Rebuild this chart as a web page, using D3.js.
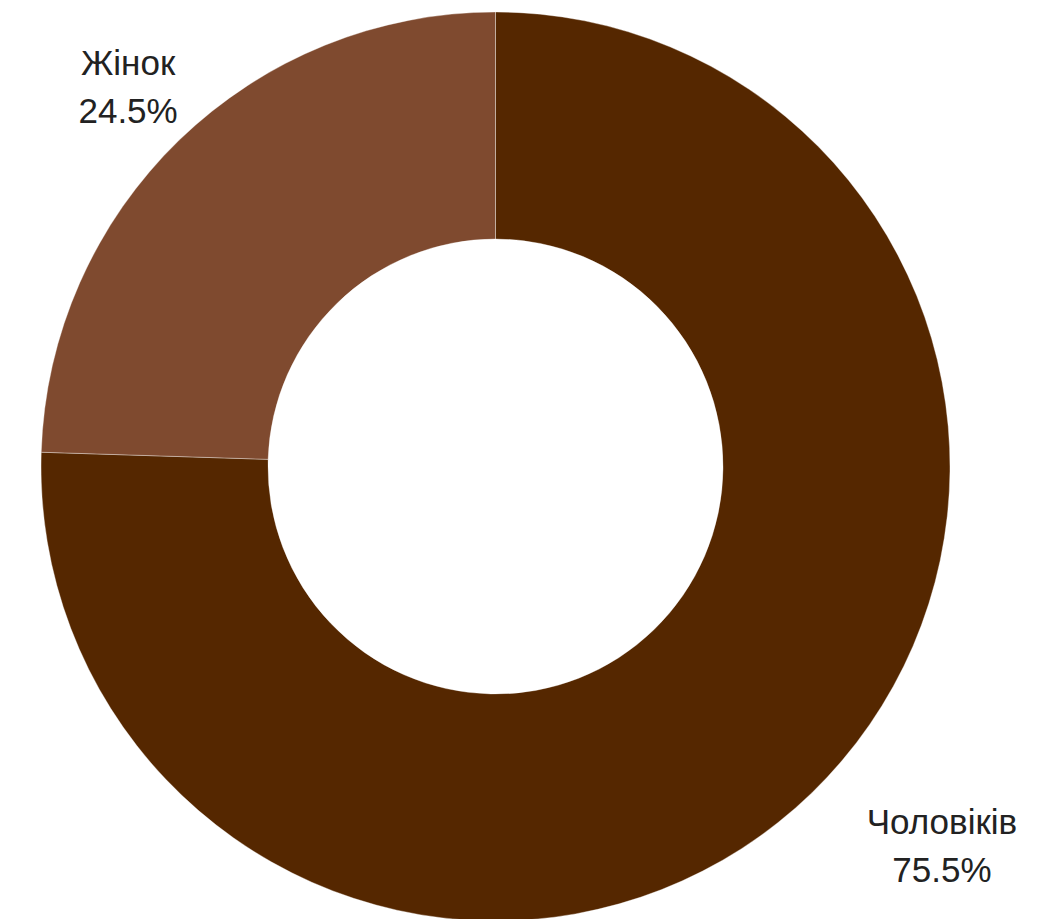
<!DOCTYPE html>
<html>
<head>
<meta charset="utf-8">
<script src="https://cdn.jsdelivr.net/npm/d3@7"></script>
<style>
  html, body { margin: 0; padding: 0; background: #ffffff; }
  svg { display: block; }
</style>
</head>
<body>
<div id="chart"></div>
<script>
// data
const categories = ["Чоловіків", "Жінок"];
const shares = [75.5, 24.5];
const shareLabels = ["75.5%", "24.5%"];

const colors = ["#552700", "#7f4a2f"];

// chart size
const width = 1053;
const height = 919;
const cx = 495.5;
const cy = 466.5;
const outerR = 454.5;
const innerR = 227.5;
const fontSize = 35;
const lineGap = 48;

// small per-label nudges so text sits where the original put it
const labelNudge = [[89, 23], [-10, 1]];

const pie = d3.pie()
  .value(d => d.value)
  .sort(null);

const slices = pie(categories.map((c, i) => ({ name: c, value: shares[i], label: shareLabels[i], i })));

const arc = d3.arc()
  .innerRadius(innerR)
  .outerRadius(outerR);

const svg = d3.select("#chart").append("svg")
  .attr("width", width)
  .attr("height", height);

const g = svg.append("g")
  .attr("transform", `translate(${cx},${cy})`);

g.selectAll("path")
  .data(slices)
  .join("path")
    .attr("d", arc)
    .attr("fill", d => colors[d.data.i])
    .attr("stroke", "#ffffff")
    .attr("stroke-opacity", 0.35)
    .attr("stroke-width", 1);

// labels outside the ring
const labels = g.selectAll("g.label")
  .data(slices)
  .join("g")
    .attr("class", "label")
    .attr("transform", d => {
      const mid = (d.startAngle + d.endAngle) / 2;
      const p = d3.pointRadial(mid, outerR * 1.13);
      const n = labelNudge[d.data.i];
      return `translate(${p[0] + n[0]},${p[1] + n[1]})`;
    });

labels.append("text")
  .attr("text-anchor", "middle")
  .attr("y", -lineGap / 2)
  .style("font-family", "'Liberation Sans', Arial, sans-serif")
  .style("font-size", fontSize + "px")
  .style("fill", "#222222")
  .text(d => d.data.name);

labels.append("text")
  .attr("text-anchor", "middle")
  .attr("y", lineGap / 2)
  .style("font-family", "'Liberation Sans', Arial, sans-serif")
  .style("font-size", fontSize + "px")
  .style("fill", "#222222")
  .text(d => d.data.label);
</script>
</body>
</html>
